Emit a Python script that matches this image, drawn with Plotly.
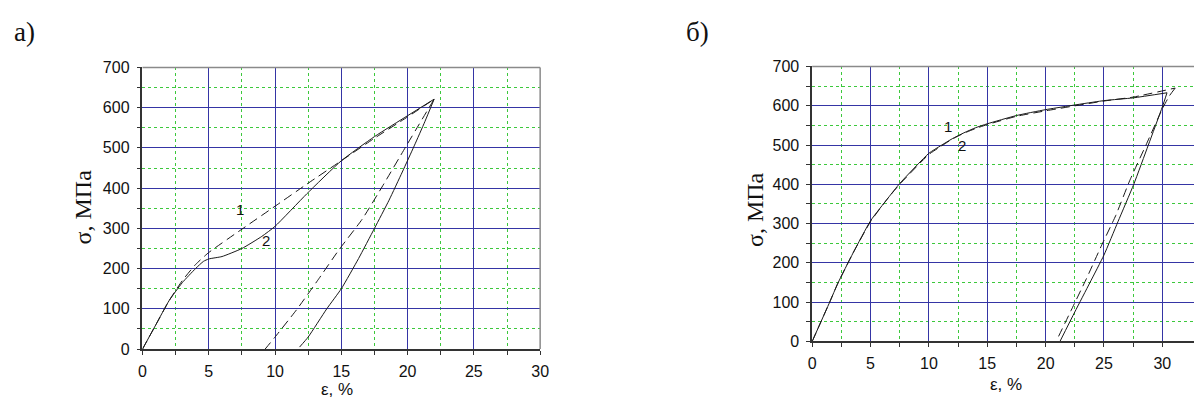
import plotly.graph_objects as go

W, H = 1203, 406

# ---------------- data: panel a) ----------------
a1_load_eps = [0, 1, 2, 3, 4, 5, 7.5, 10, 12.4, 15, 17.5, 20, 22]
a1_load_sig = [0, 60, 120, 170, 210, 240, 298, 355, 410, 468, 524, 577, 621]
a1_unl_eps = [22, 19.9, 18.2, 16.58, 14.85, 13.2, 11.63, 10, 9.25]
a1_unl_sig = [621, 505, 410, 323, 248, 170, 98, 30, 0]

a2_load_eps = [0, 1, 2, 3, 4, 4.6, 5, 6, 7.5, 9, 10, 12.4, 15, 17.5, 20, 22]
a2_load_sig = [0, 60, 120, 165, 200, 218, 224, 230, 250, 280, 305, 386, 468, 528, 580, 621]
a2_unl_eps = [22, 21.3, 20.5, 19.6, 18.6, 17.5, 16.3, 15, 13.9, 12.5, 11.85]
a2_unl_sig = [621, 565, 505, 440, 370, 300, 225, 150, 100, 30, 5]

# ---------------- data: panel б) ----------------
b1_load_eps = [0, 1.5, 2.2, 3.5, 5, 6.5, 7.5, 10, 11, 12, 13, 14, 15, 17.5, 20, 25, 27.5, 31.1]
b1_load_sig = [0, 100, 148, 225, 305, 365, 400, 476, 496, 515, 530, 542, 552, 573, 587, 612, 622, 645]
b1_unl_eps = [31.1, 30.6, 30, 28.6, 27.2, 26, 24.8, 23.5, 22.2, 20.9]
b1_unl_sig = [645, 625, 592, 500, 409, 320, 245, 160, 80, 0]

b2_load_eps = [0, 1.5, 2.2, 3.5, 5, 6.5, 7.5, 10, 11, 12, 13, 14, 15, 17.5, 20, 25, 27.5, 30.4]
b2_load_sig = [0, 100, 148, 225, 307, 365, 402, 479, 498, 516, 531, 544, 554, 575, 590, 613, 620, 633]
b2_unl_eps = [30.4, 30, 28.8, 27.55, 26.2, 25, 23.8, 22.5, 21.23]
b2_unl_sig = [633, 597, 500, 400, 305, 220, 150, 75, 0]

x_ticks = [0, 5, 10, 15, 20, 25, 30]
y_ticks = [0, 100, 200, 300, 400, 500, 600, 700]

# curve labels: (text, eps, sigma)
a_labels = [("1", 7.37, 348), ("2", 9.35, 270)]
b_labels = [("1", 11.66, 546), ("2", 12.86, 499)]

# ---------------- styling ----------------
MAJOR = "#3535a5"
MINOR = "#3cc83c"
AXIS = "#333333"
FRAME = "#8a8a8a"
SANS = "Liberation Sans, Arial, sans-serif"
SERIF = "Liberation Serif, Times New Roman, serif"

x_minor = [(a + b) / 2 for a, b in zip(x_ticks, x_ticks[1:])]
y_minor = [(a + b) / 2 for a, b in zip(y_ticks, y_ticks[1:])]

fig = go.Figure()


def add_curve(xs, ys, xa, ya, dash):
    fig.add_trace(go.Scatter(
        x=xs, y=ys, xaxis=xa, yaxis=ya, mode="lines",
        line=dict(color="#1a1a1a", width=1, dash=dash, shape="spline", smoothing=0.5),
        showlegend=False, hoverinfo="skip"))


DASH = "9px,5px"
add_curve(a1_load_eps, a1_load_sig, "x", "y", DASH)
add_curve(a1_unl_eps, a1_unl_sig, "x", "y", DASH)
add_curve(a2_load_eps, a2_load_sig, "x", "y", "solid")
add_curve(a2_unl_eps, a2_unl_sig, "x", "y", "solid")
add_curve(b1_load_eps, b1_load_sig, "x2", "y2", DASH)
add_curve(b1_unl_eps, b1_unl_sig, "x2", "y2", DASH)
add_curve(b2_load_eps, b2_load_sig, "x2", "y2", "solid")
add_curve(b2_unl_eps, b2_unl_sig, "x2", "y2", "solid")


def px(v):
    return v / W


def py(v):
    return 1 - v / H


def axis(minor_vals, standoff):
    return dict(
        showline=True, linecolor=AXIS, linewidth=1.5,
        showgrid=True, gridcolor=MAJOR, gridwidth=1,
        zeroline=False, ticks="outside", ticklen=4, tickcolor=AXIS,
        ticklabelstandoff=standoff,
        tickfont=dict(family=SANS, size=16, color="#111"),
        minor=dict(tickmode="array", tickvals=minor_vals, showgrid=True,
                   gridcolor=MINOR, griddash="dot", gridwidth=1,
                   ticks="outside", ticklen=4, tickcolor=AXIS),
    )


fig.update_layout(
    width=W, height=H, margin=dict(l=0, r=0, t=0, b=0),
    paper_bgcolor="white", plot_bgcolor="white",
    xaxis=dict(domain=[px(140), px(542)], range=[0, 30], tickvals=x_ticks,
               anchor="y", **axis(x_minor, 3)),
    yaxis=dict(domain=[py(356), py(62)], range=[0, 700], tickvals=y_ticks,
               anchor="x", **axis(y_minor, 4)),
    xaxis2=dict(domain=[px(817), 1.0], range=[0, (W - 817) / 11.8], tickvals=x_ticks,
                anchor="y2", **axis(x_minor, 3)),
    yaxis2=dict(domain=[py(348), py(61)], range=[0, 700], tickvals=y_ticks,
                anchor="x2", **axis(y_minor, 4)),
)

# frame lines (top and right) in grey
shapes = [
    dict(type="line", xref="x domain", yref="y domain", x0=0, x1=1, y0=1, y1=1,
         line=dict(color=FRAME, width=1.5)),
    dict(type="line", xref="x domain", yref="y domain", x0=1, x1=1, y0=0, y1=1,
         line=dict(color=FRAME, width=1.5)),
    dict(type="line", xref="x2 domain", yref="y2 domain", x0=0, x1=1, y0=1, y1=1,
         line=dict(color=FRAME, width=1.5)),
]
fig.update_layout(shapes=shapes)

ann = []
for t, e, s in a_labels:
    ann.append(dict(text=t, x=e, y=s, xref="x", yref="y", showarrow=False,
                    xanchor="center", yanchor="middle",
                    font=dict(family=SANS, size=15, color="#111")))
for t, e, s in b_labels:
    ann.append(dict(text=t, x=e, y=s, xref="x2", yref="y2", showarrow=False,
                    xanchor="center", yanchor="middle",
                    font=dict(family=SANS, size=15, color="#111")))


def paper_text(text, x, y, family, size, angle=0):
    return dict(text=text, x=px(x), y=py(y), xref="paper", yref="paper",
                textangle=angle, showarrow=False, xanchor="center", yanchor="middle",
                borderpad=0, font=dict(family=family, size=size, color="#111"))


ann += [
    paper_text("σ, МПа", 80, 208, SERIF, 24, -90),
    paper_text("σ, МПа", 759, 210, SERIF, 24, -90),
    paper_text("ε, %", 337, 398, SANS, 17),
    paper_text("ε, %", 1013, 393, SANS, 17),
    paper_text("а)", 21, 25, SERIF, 27),
    paper_text("б)", 701, 25, SERIF, 27),
]
fig.update_layout(annotations=ann)

fig.write_html("out.html")
